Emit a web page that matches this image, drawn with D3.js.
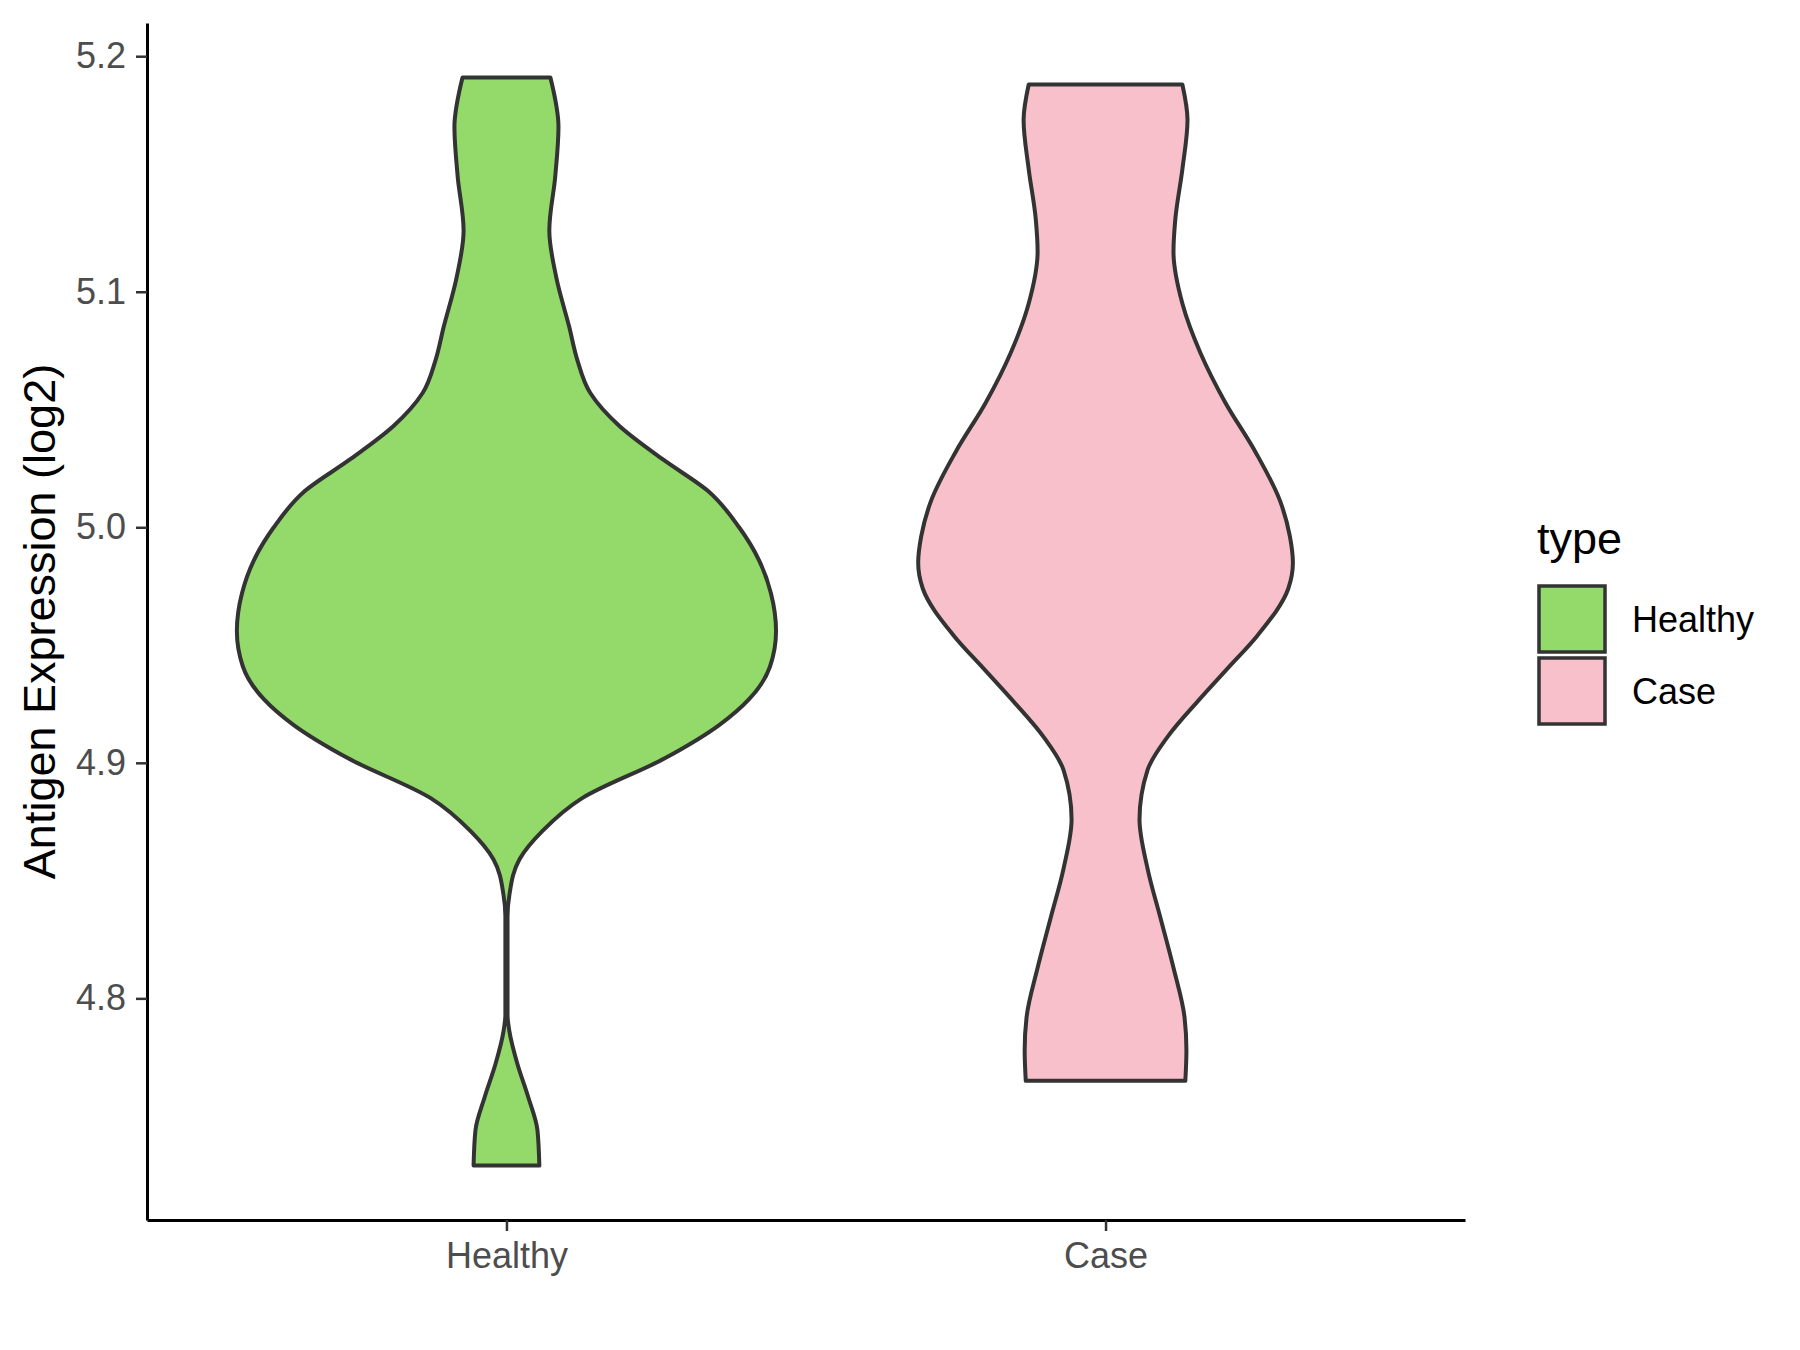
<!DOCTYPE html>
<html>
<head>
<meta charset="utf-8">
<script src="https://cdn.jsdelivr.net/npm/d3@7"></script>
<style>
  body { margin: 0; background: #fff; }
  text { font-family: "Liberation Sans", Arial, sans-serif; }
</style>
</head>
<body>
<div id="chart"></div>
<script>
// categories and colours
var groups = ["Healthy", "Case"];
var fills = ["#93DA6A", "#F7C0CB"];
var yTicks = [4.8, 4.9, 5.0, 5.1, 5.2];

// violin outlines: expression value and relative density (1 = widest)
var healthyValue = [5.191, 5.170, 5.149, 5.126, 5.106, 5.085, 5.071, 5.057, 5.043, 5.029, 5.015, 5.000,
                    4.986, 4.972, 4.956, 4.941, 4.927, 4.916, 4.902, 4.885, 4.871, 4.859, 4.844, 4.835,
                    4.814, 4.793, 4.786, 4.772, 4.758, 4.744, 4.729];
var healthyDensity = [0.163, 0.193, 0.181, 0.159, 0.185, 0.233, 0.263, 0.311, 0.419, 0.578, 0.752, 0.863,
                      0.937, 0.981, 1.000, 0.978, 0.900, 0.789, 0.589, 0.281, 0.133, 0.048, 0.011, 0.004,
                      0.004, 0.004, 0.011, 0.041, 0.081, 0.115, 0.122];

var caseValue = [5.188, 5.173, 5.152, 5.131, 5.117, 5.095, 5.074, 5.053, 5.032, 5.011, 4.996, 4.985,
                 4.974, 4.954, 4.940, 4.926, 4.911, 4.897, 4.876, 4.855, 4.834, 4.813, 4.792, 4.778, 4.765];
var caseDensity = [0.285, 0.304, 0.285, 0.259, 0.252, 0.285, 0.352, 0.444, 0.556, 0.648, 0.684, 0.695,
                   0.678, 0.563, 0.452, 0.341, 0.230, 0.156, 0.126, 0.156, 0.204, 0.252, 0.293, 0.300, 0.296];

var violins = [
  { group: groups[0], values: healthyValue, density: healthyDensity, fill: fills[0] },
  { group: groups[1], values: caseValue, density: caseDensity, fill: fills[1] }
];

// panel geometry
var margin = {top: 23, right: 335, bottom: 130, left: 147},
    width = 1800 - margin.left - margin.right,
    height = 1350 - margin.top - margin.bottom;

var svg = d3.select("#chart")
  .append("svg")
  .attr("width", 1800)
  .attr("height", 1350)
.append("g")
  .attr("transform", "translate(" + margin.left + "," + margin.top + ")");

// y scale with ggplot-style 5% expansion around the data range
var allValues = healthyValue.concat(caseValue);
var vmin = d3.min(allValues), vmax = d3.max(allValues);
var pad = (vmax - vmin) * 0.05;
var y = d3.scaleLinear()
  .domain([vmin - pad, vmax + pad])
  .range([height, 0]);

var x = d3.scalePoint()
  .domain(groups)
  .range([0, width])
  .padding(0.6);

var halfWidth = d3.scaleLinear()
  .domain([0, 1])
  .range([0, x.step() * 0.45]);

// violins
violins.forEach(function(v) {
  var pts = v.values.map(function(d, i) { return {value: d, dens: v.density[i]}; });
  var cx = x(v.group);
  var area = d3.area()
    .y(function(d) { return y(d.value); })
    .x0(function(d) { return cx - halfWidth(d.dens); })
    .x1(function(d) { return cx + halfWidth(d.dens); })
    .curve(d3.curveMonotoneY);
  svg.append("path")
    .datum(pts)
    .attr("d", area)
    .attr("fill", v.fill)
    .attr("stroke", "#333333")
    .attr("stroke-width", 4)
    .attr("stroke-linejoin", "round");
});

// axes
var yAxis = svg.append("g")
  .call(d3.axisLeft(y).tickValues(yTicks).tickFormat(d3.format(".1f"))
    .tickSize(11).tickSizeOuter(0).tickPadding(10));

var xAxis = svg.append("g")
  .attr("transform", "translate(0," + height + ")")
  .call(d3.axisBottom(x).tickSize(11).tickSizeOuter(0).tickPadding(11));

[yAxis, xAxis].forEach(function(ax) {
  ax.select(".domain").attr("stroke", "#000").attr("stroke-width", 3);
  ax.selectAll(".tick line").attr("stroke", "#333333").attr("stroke-width", 2.5);
  ax.selectAll(".tick text")
    .attr("fill", "#4D4D4D")
    .style("font-size", "36px")
    .style("font-family", "'Liberation Sans', Arial, sans-serif");
});

// y axis title
svg.append("text")
  .attr("transform", "translate(" + (55 - margin.left) + "," + (height / 2) + ") rotate(-90)")
  .attr("text-anchor", "middle")
  .style("font-size", "45px")
  .attr("fill", "#000")
  .text("Antigen Expression (log2)");

// legend
var legend = svg.append("g")
  .attr("transform", "translate(" + (1537 - margin.left) + "," + (554 - margin.top) + ")");

legend.append("text")
  .attr("x", 0)
  .attr("y", 0)
  .style("font-size", "45px")
  .attr("fill", "#000")
  .text("type");

var keySize = 66;
legend.selectAll("rect.key")
  .data(groups)
  .enter()
  .append("rect")
    .attr("class", "key")
    .attr("x", 2)
    .attr("y", function(d, i) { return 32 + i * (keySize + 6); })
    .attr("width", keySize)
    .attr("height", keySize)
    .attr("fill", function(d, i) { return fills[i]; })
    .attr("stroke", "#333333")
    .attr("stroke-width", 3.5);

legend.selectAll("text.label")
  .data(groups)
  .enter()
  .append("text")
    .attr("class", "label")
    .attr("x", 95)
    .attr("y", function(d, i) { return 32 + i * (keySize + 6) + keySize / 2; })
    .attr("dy", "0.35em")
    .style("font-size", "36px")
    .attr("fill", "#000")
    .text(function(d) { return d; });
</script>
</body>
</html>
